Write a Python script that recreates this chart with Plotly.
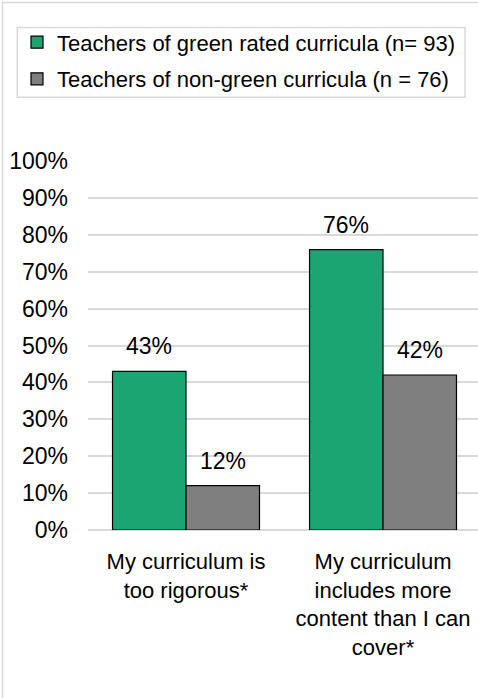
import plotly.graph_objects as go

# Survey statements (x categories) and their multi-line tick labels
categories = ["too_rigorous", "more_content"]
tick_labels = ["My curriculum is<br>too rigorous*",
               "My curriculum<br>includes more<br>content than I can<br>cover*"]

# Share of teachers agreeing, per group
series_names = ["Teachers of green rated curricula (n= 93)",
                "Teachers of non-green curricula (n = 76)"]
green_vals = [0.43, 0.76]
nongreen_vals = [0.12, 0.42]
series_colors = ["#1BA572", "#7F7F7F"]

y_ticks = [i / 10 for i in range(11)]
y_tick_labels = [f"{i * 10}%" for i in range(11)]

FONT = "Liberation Sans, Arial, sans-serif"
BARGAP = 0.254
W, H = 478, 698
ML, MT, MB = 88, 160.5, 167.5
plot_w = W - ML
plot_h = H - MT - MB


def px_x(px):
    return (px - ML) / plot_w


def px_y(py):
    return (H - MB - py) / plot_h


fig = go.Figure()
for name, vals, col in zip(series_names, [green_vals, nongreen_vals], series_colors):
    fig.add_trace(go.Bar(
        x=categories, y=vals, name=name, legendgroup=name,
        marker=dict(color=col, line=dict(color="#000000", width=1.2)),
        hoverinfo="skip",
    ))

# value labels above each bar
n_series = 2
bar_w = (1 - BARGAP) / n_series
for s, vals in enumerate([green_vals, nongreen_vals]):
    for i, v in enumerate(vals):
        fig.add_annotation(
            x=i - (1 - BARGAP) / 2 + bar_w * (s + 0.5), y=v,
            xref="x", yref="y", text=f"{round(v * 100)}%",
            showarrow=False, yanchor="bottom", yshift=10,
            font=dict(family=FONT, size=23, color="#000000"),
        )

# outer chart frame (left and top edges visible)
fig.add_shape(type="rect", xref="paper", yref="paper",
              x0=px_x(2.5), x1=px_x(700), y0=px_y(1.5), y1=px_y(900),
              line=dict(color="#D9D9D9", width=1.5), fillcolor="rgba(0,0,0,0)",
              layer="below")

# legend frame
fig.add_shape(type="rect", xref="paper", yref="paper",
              x0=px_x(17.3), x1=px_x(465), y0=px_y(26.7), y1=px_y(96.7),
              line=dict(color="#D9D9D9", width=1.5), fillcolor="white",
              layer="below")

fig.update_layout(
    width=W, height=H,
    margin=dict(l=ML, r=0, t=MT, b=MB),
    paper_bgcolor="white", plot_bgcolor="white",
    barmode="group", bargap=BARGAP, bargroupgap=0,
    font=dict(family=FONT, size=23, color="#000000"),
    showlegend=True,
    legend=dict(
        x=px_x(17), y=px_y(20.5), xanchor="left", yanchor="top",
        bgcolor="rgba(0,0,0,0)", borderwidth=0,
        font=dict(family=FONT, size=22, color="#000000"),
        tracegroupgap=5, traceorder="grouped",
    ),
    xaxis=dict(
        type="category", range=[-0.4975, 1.4822],
        tickmode="array", tickvals=categories, ticktext=tick_labels,
        showgrid=False, showline=False, ticks="", ticklabelstandoff=16,
        tickfont=dict(family=FONT, size=22, color="#000000"),
    ),
    yaxis=dict(
        range=[0, 1], tickmode="array", tickvals=y_ticks, ticktext=y_tick_labels,
        showgrid=True, gridcolor="#D9D9D9", gridwidth=1.5,
        zeroline=True, zerolinecolor="#D9D9D9", zerolinewidth=1.5,
        showline=False, ticks="", ticklabelstandoff=19,
        tickfont=dict(family=FONT, size=23, color="#000000"),
    ),
)

fig.write_html("out.html")
